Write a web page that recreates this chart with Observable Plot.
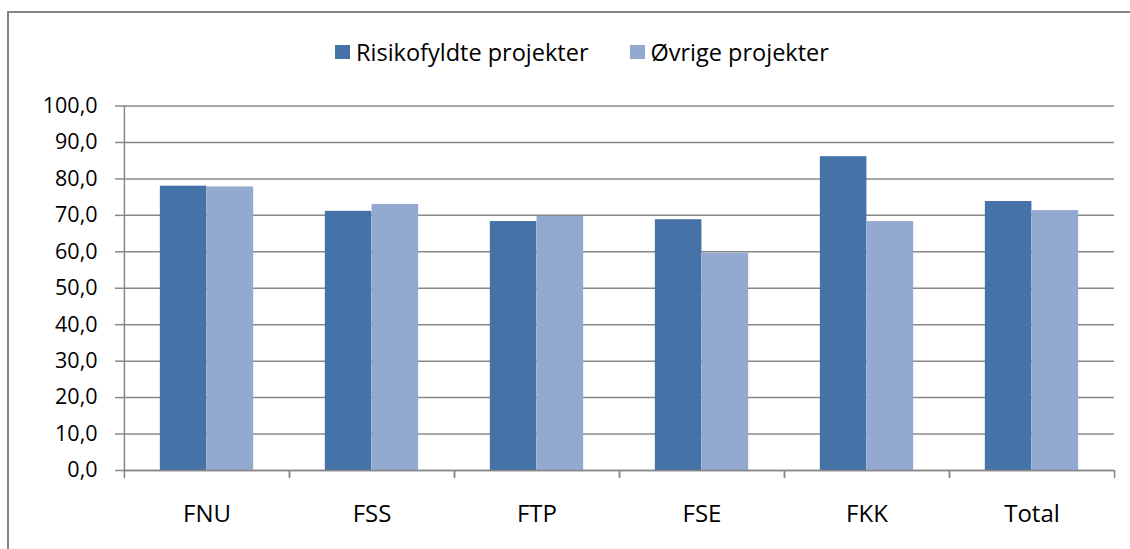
<!DOCTYPE html>
<html>
<head>
<meta charset="utf-8">
<script src="https://cdn.jsdelivr.net/npm/d3@7"></script>
<script src="https://cdn.jsdelivr.net/npm/@observablehq/plot@0.6"></script>
<style>
  html, body { margin: 0; padding: 0; background: #fff; overflow: hidden; }
  body { width: 1130px; height: 549px; position: relative; font-family: "Open Sans", sans-serif; color: #000; }
  #border { position: absolute; left: 7px; top: 11px; width: 1200px; height: 700px; border: 2px solid #868686; box-sizing: border-box; z-index: 5; pointer-events: none; }
  #legend { position: absolute; left: 335px; top: 35px; display: flex; font-size: 23.5px; line-height: 34px; }
  .item { display: flex; align-items: center; }
  .sw { width: 15px; height: 14px; margin-right: 6px; }
  #chart { position: absolute; left: 0; top: 80px; }
</style>
</head>
<body>
<div id="legend"></div>
<div id="chart"></div>
<div id="border"></div>
<script>
const categories = ["FNU", "FSS", "FTP", "FSE", "FKK", "Total"];
const seriesNames = ["Risikofyldte projekter", "Øvrige projekter"];
const risikofyldte = [78.0, 71.1, 68.3, 68.8, 86.1, 73.8];
const ovrige = [77.8, 73.0, 69.7, 59.6, 68.3, 71.3];
const yTicks = [0, 10, 20, 30, 40, 50, 60, 70, 80, 90, 100];
const colors = ["#4572A7", "#93A9D0"];

const rows = categories.map((c, i) => ({cat: c, r: risikofyldte[i], o: ovrige[i]}));

// legend
const legend = document.getElementById("legend");
seriesNames.forEach((s, i) => {
  const it = document.createElement("div");
  it.className = "item";
  it.style.marginRight = i === 0 ? "41px" : "0";
  const sw = document.createElement("div");
  sw.className = "sw";
  sw.style.background = colors[i];
  const t = document.createElement("span");
  t.textContent = s;
  it.appendChild(sw); it.appendChild(t);
  legend.appendChild(it);
});

const W = 1130, H = 469, mL = 123, mR = 16;
const step = (W - mL - mR) / categories.length;
const barW = step * 0.283;
const outer = (step - 2 * barW) / 2;
const grid = "#888888";

const chart = Plot.plot({
  width: W,
  height: H,
  marginLeft: mL,
  marginRight: mR,
  marginTop: 25.5,
  marginBottom: 79,
  style: {fontFamily: "Open Sans, sans-serif", background: "#fff", color: "#000", overflow: "visible"},
  x: {domain: categories, padding: 0, label: null},
  y: {domain: [0, 100], label: null},
  marks: [
    Plot.gridY(yTicks, {stroke: grid, strokeOpacity: 1, strokeWidth: 1.5}),
    Plot.barY(rows, {x: "cat", y: "r", fill: colors[0], insetLeft: outer, insetRight: step - outer - barW}),
    Plot.barY(rows, {x: "cat", y: "o", fill: colors[1], insetLeft: outer + barW, insetRight: outer}),
    Plot.ruleY([0], {stroke: grid, strokeWidth: 1.5}),
    Plot.tickX([categories[0]], {x: d => d, dx: -step / 2, stroke: grid, strokeWidth: 1.5}),
    Plot.axisY(yTicks, {
      tickFormat: d => d.toFixed(1).replace(".", ","),
      tickSize: 8, tickPadding: 18, stroke: grid, strokeWidth: 1.5,
      fill: "#000", fontSize: 21.5, label: null
    }),
    Plot.axisX({anchor: "bottom", tickSize: 8, dx: -step / 2, text: null, stroke: grid, strokeWidth: 1.5, label: null}),
    Plot.axisX({anchor: "bottom", tickSize: 8, dx: step / 2, text: null, stroke: grid, strokeWidth: 1.5, label: null}),
    Plot.axisX({anchor: "bottom", tickSize: 0, tickPadding: 34, fontSize: 24, fill: "#000", label: null})
  ]
});
document.getElementById("chart").appendChild(chart);
</script>
</body>
</html>
